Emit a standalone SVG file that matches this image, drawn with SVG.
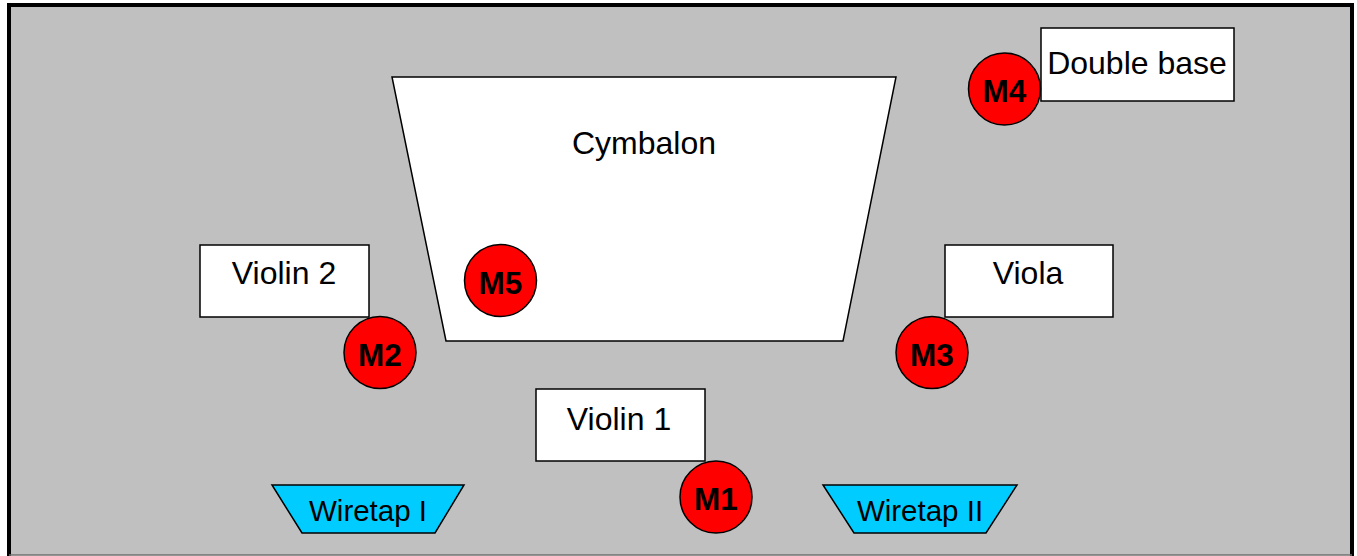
<svg xmlns="http://www.w3.org/2000/svg" width="1357" height="556" viewBox="0 0 1357 556">
<style>
.box{fill:#ffffff;stroke:#000000;stroke-width:1.5}
.tap{fill:#00ccff;stroke:#000000;stroke-width:1.5}
.mic{fill:#ff0000;stroke:#000000;stroke-width:1.5}
.lbl{font-family:"Liberation Sans",Arial,sans-serif;font-size:32px;fill:#000000;text-anchor:middle}
.tlbl{font-family:"Liberation Sans",Arial,sans-serif;font-size:29.5px;fill:#000000;text-anchor:middle}
.mlbl{font-family:"Liberation Sans",Arial,sans-serif;font-size:31.5px;font-weight:bold;fill:#000000;text-anchor:middle}
</style>
<rect x="0" y="0" width="1357" height="556" fill="#ffffff"/>
<g id="stage">
<rect x="8" y="4" width="1344" height="551" fill="#c0c0c0"/>
<path d="M9,556 V5 H1352 V556" fill="none" stroke="#000000" stroke-width="4"/>
<line x1="9" y1="555" x2="1352" y2="555" stroke="#707070" stroke-width="1.5"/>
</g>
<g id="connectors"></g>
<g id="cymbalon">
<polygon class="box" points="392,77 896,77 843,341 446,341"/>
<text class="lbl" x="644" y="154">Cymbalon</text>
</g>
<g id="double-base">
<rect class="box" x="1041" y="28" width="193" height="73"/>
<text class="lbl" x="1137" y="74">Double base</text>
</g>
<g id="violin2">
<rect class="box" x="200" y="245" width="169" height="72"/>
<text class="lbl" x="284" y="284">Violin 2</text>
</g>
<g id="viola">
<rect class="box" x="945" y="245" width="168" height="72"/>
<text class="lbl" x="1028" y="284">Viola</text>
</g>
<g id="violin1">
<rect class="box" x="536" y="389" width="169" height="72"/>
<text class="lbl" x="619" y="430">Violin 1</text>
</g>
<g id="wiretap1">
<polygon class="tap" points="272,485 464,485 435,533 302,533"/>
<text class="tlbl" x="368" y="521">Wiretap I</text>
</g>
<g id="wiretap2">
<polygon class="tap" points="823,485 1017,485 986,533 854,533"/>
<text class="tlbl" x="920" y="521">Wiretap II</text>
</g>
<g id="m1">
<circle class="mic" cx="716" cy="497" r="36"/>
<text class="mlbl" x="716" y="510">M1</text>
</g>
<g id="m2">
<circle class="mic" cx="380" cy="352.5" r="36"/>
<text class="mlbl" x="380" y="366">M2</text>
</g>
<g id="m3">
<circle class="mic" cx="932" cy="352.5" r="36"/>
<text class="mlbl" x="932" y="366">M3</text>
</g>
<g id="m4">
<circle class="mic" cx="1004.5" cy="89" r="36"/>
<text class="mlbl" x="1004.5" y="102">M4</text>
</g>
<g id="m5">
<circle class="mic" cx="500.5" cy="280.5" r="36"/>
<text class="mlbl" x="500.5" y="294">M5</text>
</g>
</svg>
